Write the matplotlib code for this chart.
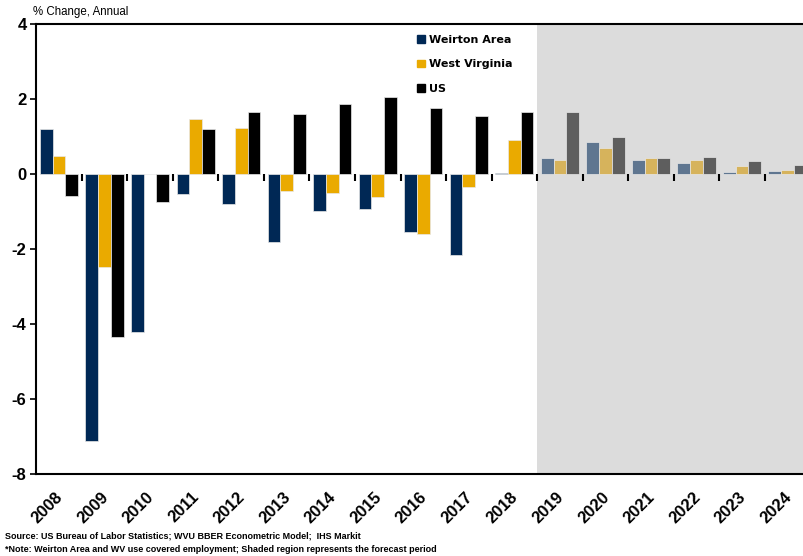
import numpy as np
import matplotlib
matplotlib.use("Agg")
from matplotlib import pyplot as plt
from matplotlib.patches import Patch
from matplotlib import font_manager

years = ["2008", "2009", "2010", "2011", "2012", "2013", "2014", "2015", "2016",
         "2017", "2018", "2019", "2020", "2021", "2022", "2023", "2024"]
weirton = [1.19, -7.12, -4.21, -0.52, -0.79, -1.81, -0.99, -0.94, -1.54,
           -2.17, 0.03, 0.42, 0.85, 0.37, 0.29, 0.05, 0.08]
wv = [0.48, -2.48, 0.0, 1.47, 1.23, -0.44, -0.50, -0.60, -1.60,
      -0.35, 0.92, 0.37, 0.69, 0.42, 0.37, 0.21, 0.10]
us = [-0.58, -4.35, -0.74, 1.19, 1.66, 1.61, 1.86, 2.05, 1.76,
      1.56, 1.66, 1.66, 0.99, 0.42, 0.45, 0.35, 0.24]
first_forecast = 11  # 2019

hist_cols = ["#002855", "#EAAA00", "#000000"]
fc_cols = ["#5F7690", "#D6B35C", "#5E5E5E"]
names = ["Weirton Area", "West Virginia", "US"]

# condensed font for the footnotes if there is one
avail = set(f.name for f in font_manager.fontManager.ttflist)
if "Liberation Sans Narrow" in avail:
    note_font, note_size, note_wt = "Liberation Sans Narrow", 7.5, "bold"
else:
    note_font, note_size, note_wt = "Liberation Sans", 6.5, "bold"

fig = plt.figure(figsize=(8.04, 5.56), dpi=100)
left = 36.3
cat = 45.53
ax = fig.add_axes([left/804, 1-474/556, (804-left)/804, (474-24)/556])

x = np.arange(len(years))
w = 0.28
ax.axvspan(first_forecast - 0.5, 20, color="#DCDCDC", zorder=0, lw=0)
for i, (vals, hc, fc) in enumerate(zip([weirton, wv, us], hist_cols, fc_cols)):
    cols = [hc if k < first_forecast else fc for k in range(len(years))]
    ax.bar(x + (i - 1) * w, vals, w, color=cols, edgecolor="#E8E8E8", linewidth=0.5, zorder=2)

ax.set_ylim(-8, 4)
ax.set_xlim(-0.5, -0.5 + (804-left)/cat)
ax.set_yticks([4, 2, 0, -2, -4, -6, -8])
ax.set_yticklabels(["4", "2", "0", "-2", "-4", "-6", "-8"],
                   fontsize=12, fontweight="bold", family="Liberation Sans")
ax.tick_params(axis="y", direction="out", length=4, width=1.2, pad=3)

ax.set_xticks(x)
ax.set_xticklabels([])
ax.tick_params(axis="x", length=0)
for k, yr in enumerate(years):
    ax.text(k + 0.03, -8.55, yr, rotation=45, ha="right", va="center",
            rotation_mode="anchor", fontsize=12, fontweight="bold",
            family="Liberation Sans")

for s in ["left", "top", "bottom"]:
    ax.spines[s].set_linewidth(1.5)
ax.spines["right"].set_visible(False)

# zero line with ticks at group boundaries
zero = ax.secondary_xaxis(2/3)
zero.set_xticks(np.arange(0.5, len(years), 1.0))
zero.set_xticklabels([])
zero.tick_params(direction="out", length=5, width=1.5)
zero.spines["bottom"].set_linewidth(1.5)
zero.spines["top"].set_visible(False)
zero.xaxis.set_ticks_position("bottom")

handles = [Patch(color=c) for c in hist_cols]
leg = fig.legend(handles, names, loc="upper left", bbox_to_anchor=(407/804, 1-25/556),
                 frameon=False, handlelength=0.7, handleheight=0.7, handletextpad=0.4,
                 labelspacing=1.3, prop={"family": "DejaVu Sans", "weight": "bold", "size": 8})

fig.text(33/804, 1-12/556, "% Change, Annual", fontsize=8.3, va="center",
         family="Liberation Sans")
fig.text(5/804, 1-536/556, "Source: US Bureau of Labor Statistics; WVU BBER Econometric Model;  IHS Markit",
         fontsize=note_size, va="center", family=note_font, fontweight=note_wt)
fig.text(5/804, 1-549/556, "*Note: Weirton Area and WV use covered employment; Shaded region represents the forecast period",
         fontsize=note_size, va="center", family=note_font, fontweight=note_wt)

fig.savefig("out.png", dpi=100)
